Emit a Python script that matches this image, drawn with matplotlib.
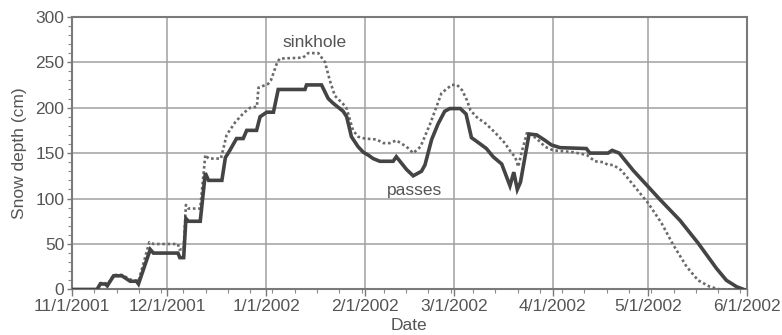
import datetime
import matplotlib
matplotlib.use("Agg")
import matplotlib.pyplot as plt
import matplotlib.dates as mdates
from matplotlib.ticker import MultipleLocator, FuncFormatter
import numpy as np

# days after 11/1/2001 and snow depth (cm)
passes_days = [0, 7.9, 8.9, 10.5, 11.1, 13.1, 15.7, 18.3, 20.3, 20.9, 24.6, 25.6, 33.3, 33.9,
               35.1, 35.8, 36.6, 40.3, 41.9, 42.9, 47.1, 48.2, 49.6, 51.7, 53.8, 54.9, 58.0,
               59.1, 61.2, 63.3, 64.8, 73.2, 73.7, 78.4, 80.5, 82.0, 85.2, 86.3, 87.8, 89.9,
               91.5, 93.0, 94.6, 96.7, 100.9, 101.9, 105.1, 107.2, 109.8, 110.9, 113.0, 115.0,
               117.1, 118.7, 122.0, 123.8, 125.5, 127.1, 130.2, 132.3, 135.0, 137.6, 138.8,
               139.9, 140.9, 143.6, 146.0, 148.6, 150.6, 153.3, 161.6, 162.7, 168.4, 169.7,
               171.9, 176.3, 184.7, 191.0, 196.7, 202.5, 205.6, 208.8, 211.0]
passes_depth = [0, 0, 6, 6, 4, 15, 15, 9, 9, 6, 44, 40, 40, 35,
                35, 78, 75, 75, 128, 120, 120, 145, 153, 166, 166, 175, 175,
                190, 195, 195, 220, 220, 225, 225, 210, 205, 196, 190, 168, 157,
                151, 148, 144, 141, 141, 146, 132, 125, 130, 137, 165, 182,
                196, 199, 199, 193, 167, 163, 155, 146, 138, 114, 129,
                110, 118, 171, 170, 164, 159, 156, 155, 150, 150, 153,
                150, 131, 99, 76, 51, 23, 10, 3, 0]

sinkhole_days = [0, 7.9, 8.9, 10.5, 11.1, 13.1, 15.7, 18.3, 20.9, 24.3, 25.6, 33.3, 33.7,
                 35.1, 35.8, 36.6, 40.3, 41.9, 42.9, 46.8, 48.6, 51.3, 53.9, 56.0, 58.1,
                 58.6, 61.6, 62.5, 64.5, 65.3, 72.6, 74.2, 77.4, 79.5, 81.0, 82.6, 85.2,
                 86.3, 88.3, 89.9, 92.0, 95.7, 97.8, 99.9, 101.9, 105.1, 107.2, 109.5,
                 112.5, 116.1, 119.3, 121.0, 122.6, 124.1, 125.2, 127.6, 129.5, 132.8,
                 136.0, 138.1, 139.2, 140.2, 141.2, 143.0, 146.0, 148.6, 151.2, 157.5,
                 161.7, 164.3, 166.9, 168.4, 170.0, 172.6, 176.8, 181.0, 185.2, 188.9,
                 193.1, 196.7, 200.4, 203.5, 212.0]
sinkhole_depth = [0, 0, 7, 7, 5, 16, 16, 11, 9, 52, 50, 50, 44,
                  44, 93, 89, 89, 148, 144, 144, 170, 184, 194, 200, 201,
                  222, 226, 230, 250, 254, 255, 260, 260, 250, 230, 213, 204,
                  199, 175, 168, 166, 165, 161, 161, 164, 157, 150, 157,
                  182, 216, 225, 225, 219, 208, 197, 188, 184, 173,
                  161, 150, 146, 135, 150, 173, 166, 157, 153, 151,
                  148, 141, 140, 137, 137, 131, 113, 95, 73, 49,
                  25, 10, 3, 0, 0]

start = mdates.date2num(datetime.datetime(2001, 11, 1))
month_ticks = [datetime.datetime(2001, 11, 1), datetime.datetime(2001, 12, 1),
               datetime.datetime(2002, 1, 1), datetime.datetime(2002, 2, 1),
               datetime.datetime(2002, 3, 1), datetime.datetime(2002, 4, 1),
               datetime.datetime(2002, 5, 1), datetime.datetime(2002, 6, 1)]

text_col = '#555555'
plt.rcParams['font.family'] = ['Liberation Sans', 'DejaVu Sans']

fig = plt.figure(figsize=(7.82, 3.35), dpi=100)
ax = fig.add_axes([0.092, 0.136, 0.863, 0.814])

ax.plot(start + np.array(sinkhole_days), sinkhole_depth, color='#6a6a6a', lw=1.9,
        linestyle=(0, (1, 1.0)), zorder=3)
ax.plot(start + np.array(passes_days), passes_depth, color='#444444', lw=2.6, zorder=4,
        solid_joinstyle='miter')

ax.set_xlim(mdates.date2num(month_ticks[0]), mdates.date2num(month_ticks[-1]))
ax.set_ylim(0, 300)

ax.set_xticks(mdates.date2num(month_ticks))
ax.xaxis.set_major_formatter(FuncFormatter(
    lambda v, p: "{d.month}/{d.day}/{d.year}".format(d=mdates.num2date(v))))
ax.xaxis.set_minor_locator(mdates.WeekdayLocator(byweekday=mdates.TH))
ax.yaxis.set_major_locator(MultipleLocator(50))
ax.yaxis.set_minor_locator(MultipleLocator(10))

ax.grid(True, which='major', color='#a0a0a0', lw=1.1)
ax.set_axisbelow(True)
for s in ax.spines.values():
    s.set_color('#7a7a7a')
    s.set_linewidth(1.5)

ax.tick_params(axis='both', which='major', labelsize=12.5, labelcolor=text_col,
               color='#7a7a7a', width=1, pad=2)
ax.tick_params(axis='x', which='major', length=5)
ax.tick_params(axis='y', which='major', length=3.5)
ax.tick_params(axis='both', which='minor', length=3, color='#8a8a8a', width=0.8)

ax.set_xlabel("Date", fontsize=12.5, color=text_col, labelpad=3)
ax.set_ylabel("Snow depth (cm)", fontsize=12.5, color=text_col, labelpad=6)

ax.text(start + 76.3, 272, "sinkhole", fontsize=12.5, color=text_col, ha='center', va='center')
ax.text(start + 107.7, 109, "passes", fontsize=12.5, color=text_col, ha='center', va='center')

fig.savefig("out.png", dpi=100)
